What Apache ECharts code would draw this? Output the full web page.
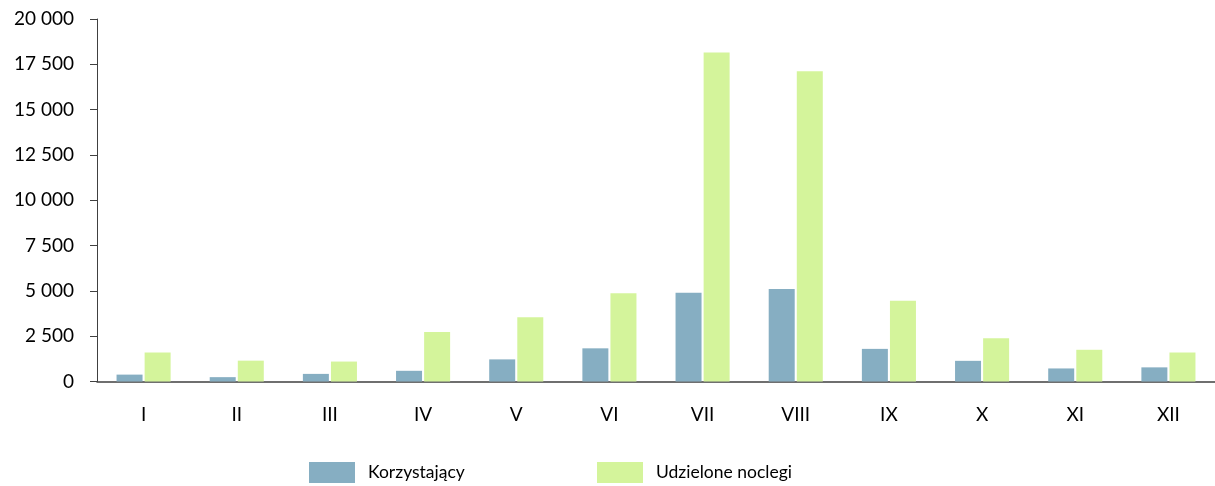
<!DOCTYPE html>
<html>
<head>
<meta charset="utf-8">
<script src="https://cdn.jsdelivr.net/npm/echarts@6/dist/echarts.min.js"></script>
<style>
    html, body { margin: 0; padding: 0; background: #fff; }
    #chart { width: 1215px; height: 486px; }
</style>
</head>
<body>
<div id="chart"></div>
<script>
// miesiące
var months = ['I', 'II', 'III', 'IV', 'V', 'VI', 'VII', 'VIII', 'IX', 'X', 'XI', 'XII'];
var korzystajacy = [380, 240, 420, 590, 1220, 1830, 4900, 5110, 1800, 1140, 720, 780];
var noclegi = [1600, 1150, 1100, 2730, 3540, 4870, 18150, 17120, 4460, 2380, 1750, 1600];
var yTicks = [0, 2500, 5000, 7500, 10000, 12500, 15000, 17500, 20000];

var font = 'Lato, "Open Sans", sans-serif';

function fmt(v) {
    // spacja jako separator tysięcy
    return String(v).replace(/\B(?=(\d{3})+(?!\d))/g, ' ');
}

var chart = echarts.init(document.getElementById('chart'));
chart.setOption({
    animation: false,
    textStyle: { fontFamily: font },
    grid: { left: 97, right: 0, top: 19, bottom: 104.5, containLabel: false },
    legend: [{
        left: 304, top: 457,
        itemWidth: 46, itemHeight: 21,
        icon: 'rect',
        data: ['Korzystający'],
        textStyle: { fontSize: 17.5, color: '#000', padding: [0, 0, 0, 8], fontFamily: font }
    }, {
        left: 592, top: 457,
        itemWidth: 46, itemHeight: 21,
        icon: 'rect',
        data: ['Udzielone noclegi'],
        textStyle: { fontSize: 17.5, color: '#000', padding: [0, 0, 0, 8], fontFamily: font }
    }],
    xAxis: {
        type: 'category',
        data: months,
        axisLine: { lineStyle: { color: '#404040', width: 1.5 } },
        axisTick: { show: false },
        axisLabel: { color: '#000', fontSize: 19, margin: 24, fontFamily: font }
    },
    yAxis: {
        type: 'value',
        min: yTicks[0],
        max: yTicks[yTicks.length - 1],
        interval: 2500,
        splitLine: { show: false },
        axisLine: { show: true, lineStyle: { color: '#404040', width: 1 } },
        axisTick: { show: true, length: 7, lineStyle: { color: '#404040' } },
        axisLabel: { color: '#000', fontSize: 19, margin: 23, formatter: fmt, fontFamily: font }
    },
    series: [{
        name: 'Korzystający',
        type: 'bar',
        data: korzystajacy,
        barWidth: 26,
        barGap: '8%',
        itemStyle: { color: '#86AEC2' }
    }, {
        name: 'Udzielone noclegi',
        type: 'bar',
        data: noclegi,
        barWidth: 26,
        itemStyle: { color: '#D4F49B' }
    }]
});
</script>
</body>
</html>
